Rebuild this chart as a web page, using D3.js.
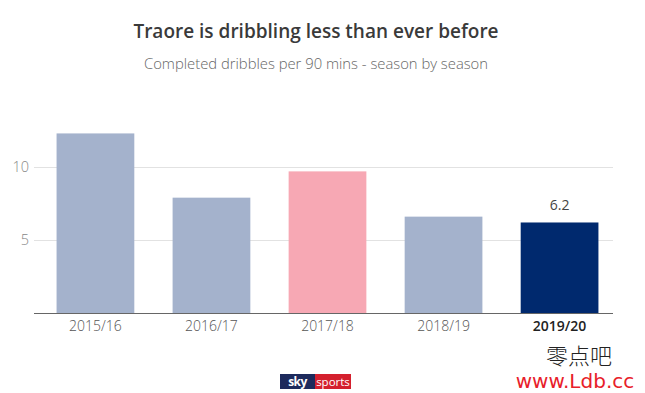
<!DOCTYPE html>
<html><head><meta charset="utf-8">
<script src="https://cdnjs.cloudflare.com/ajax/libs/d3/7.8.5/d3.min.js"></script>
<style>body{margin:0;background:#fff;}svg{display:block;font-family:"Open Sans",sans-serif;}</style>
</head><body><svg id="c" width="645" height="393"></svg>
<script>
const seasons = ["2015/16","2016/17","2017/18","2018/19","2019/20"];
const dribbles = [12.3, 7.9, 9.7, 6.6, 6.2];
const barColors = ["#a4b2cc","#a4b2cc","#f7a8b4","#a4b2cc","#00296e"];
const yTicks = [5, 10];
const valueLabels = [null, null, null, null, "6.2"];

const svg = d3.select("#c");
const x = d3.scaleBand().domain(seasons).range([38, 617]).paddingInner(0.33).paddingOuter(0.16);
const y = d3.scaleLinear().domain([0, 10]).range([313, 167]);

svg.append("text").attr("x", 316).attr("y", 38).attr("text-anchor","middle")
  .attr("font-size", 19).attr("font-weight", 600).attr("fill", "#3a3a3a").text("Traore is dribbling less than ever before");
svg.append("text").attr("x", 316).attr("y", 69).attr("text-anchor","middle")
  .attr("font-size", 14.8).attr("font-weight", 300).attr("fill", "#666").text("Completed dribbles per 90 mins - season by season");

// grid
const ya = d3.axisLeft(y).tickValues(yTicks).tickSize(-(613-34)).tickPadding(5);
const g = svg.append("g").attr("transform","translate(34,0)").call(ya);
g.select(".domain").remove();
g.selectAll(".tick line").attr("stroke","#e2e2e2");
g.selectAll(".tick text").attr("font-size", 14.5).attr("font-weight",300).attr("fill","#888").attr("font-family","Open Sans, sans-serif");

svg.selectAll("rect.bar").data(seasons).enter().append("rect").attr("class","bar")
  .attr("x", d => x(d)).attr("width", x.bandwidth())
  .attr("y", (d,i) => y(dribbles[i])).attr("height", (d,i) => y(0) - y(dribbles[i]))
  .attr("fill", (d,i) => barColors[i]);

const xa = d3.axisBottom(x).tickSize(0).tickPadding(8);
const gx = svg.append("g").attr("transform", `translate(0,${y(0)})`).call(xa);
gx.select(".domain").remove();
svg.append("line").attr("x1",34).attr("x2",613).attr("y1",y(0)+0.5).attr("y2",y(0)+0.5).attr("stroke","#666");
gx.selectAll(".tick text").attr("font-size", 14).attr("fill", (d,i)=> i===4 ? "#222" : "#555")
  .attr("font-weight", (d,i)=> i===4 ? 600 : 300).attr("font-family","Open Sans, sans-serif");

svg.selectAll("text.val").data(seasons).enter().filter((d,i)=>valueLabels[i]).append("text")
  .attr("class","val").attr("x", d => x(d)+x.bandwidth()/2)
  .attr("y", d => y(dribbles[seasons.indexOf(d)]) - 12).attr("text-anchor","middle")
  .attr("font-size", 14).attr("fill","#444").text(d => valueLabels[seasons.indexOf(d)]);

// logo
const lg = svg.append("g");
lg.append("rect").attr("x",280).attr("y",374).attr("width",35).attr("height",15).attr("fill","#1d2a5c");
lg.append("rect").attr("x",315).attr("y",374).attr("width",36).attr("height",15).attr("fill","#d4202e");
lg.append("text").attr("x",297.5).attr("y",386).attr("text-anchor","middle").attr("font-size",12).attr("font-weight",700).attr("fill","#fff").attr("letter-spacing",-0.5).text("sky");
lg.append("text").attr("x",333).attr("y",385.5).attr("text-anchor","middle").attr("font-size",11.5).attr("fill","#fff").text("sports");

// watermark
svg.append("text").attr("x",579).attr("y",364).attr("text-anchor","middle").attr("font-size",22)
  .attr("font-family","'Noto Sans CJK SC', sans-serif").attr("font-weight",300).attr("fill","#222").text("零点吧");
svg.append("text").attr("x",575).attr("y",388).attr("text-anchor","middle").attr("font-size",20)
  .attr("font-family","'DejaVu Sans', sans-serif").attr("fill","#e8202a").text("www.Ldb.cc");
</script></body></html>
